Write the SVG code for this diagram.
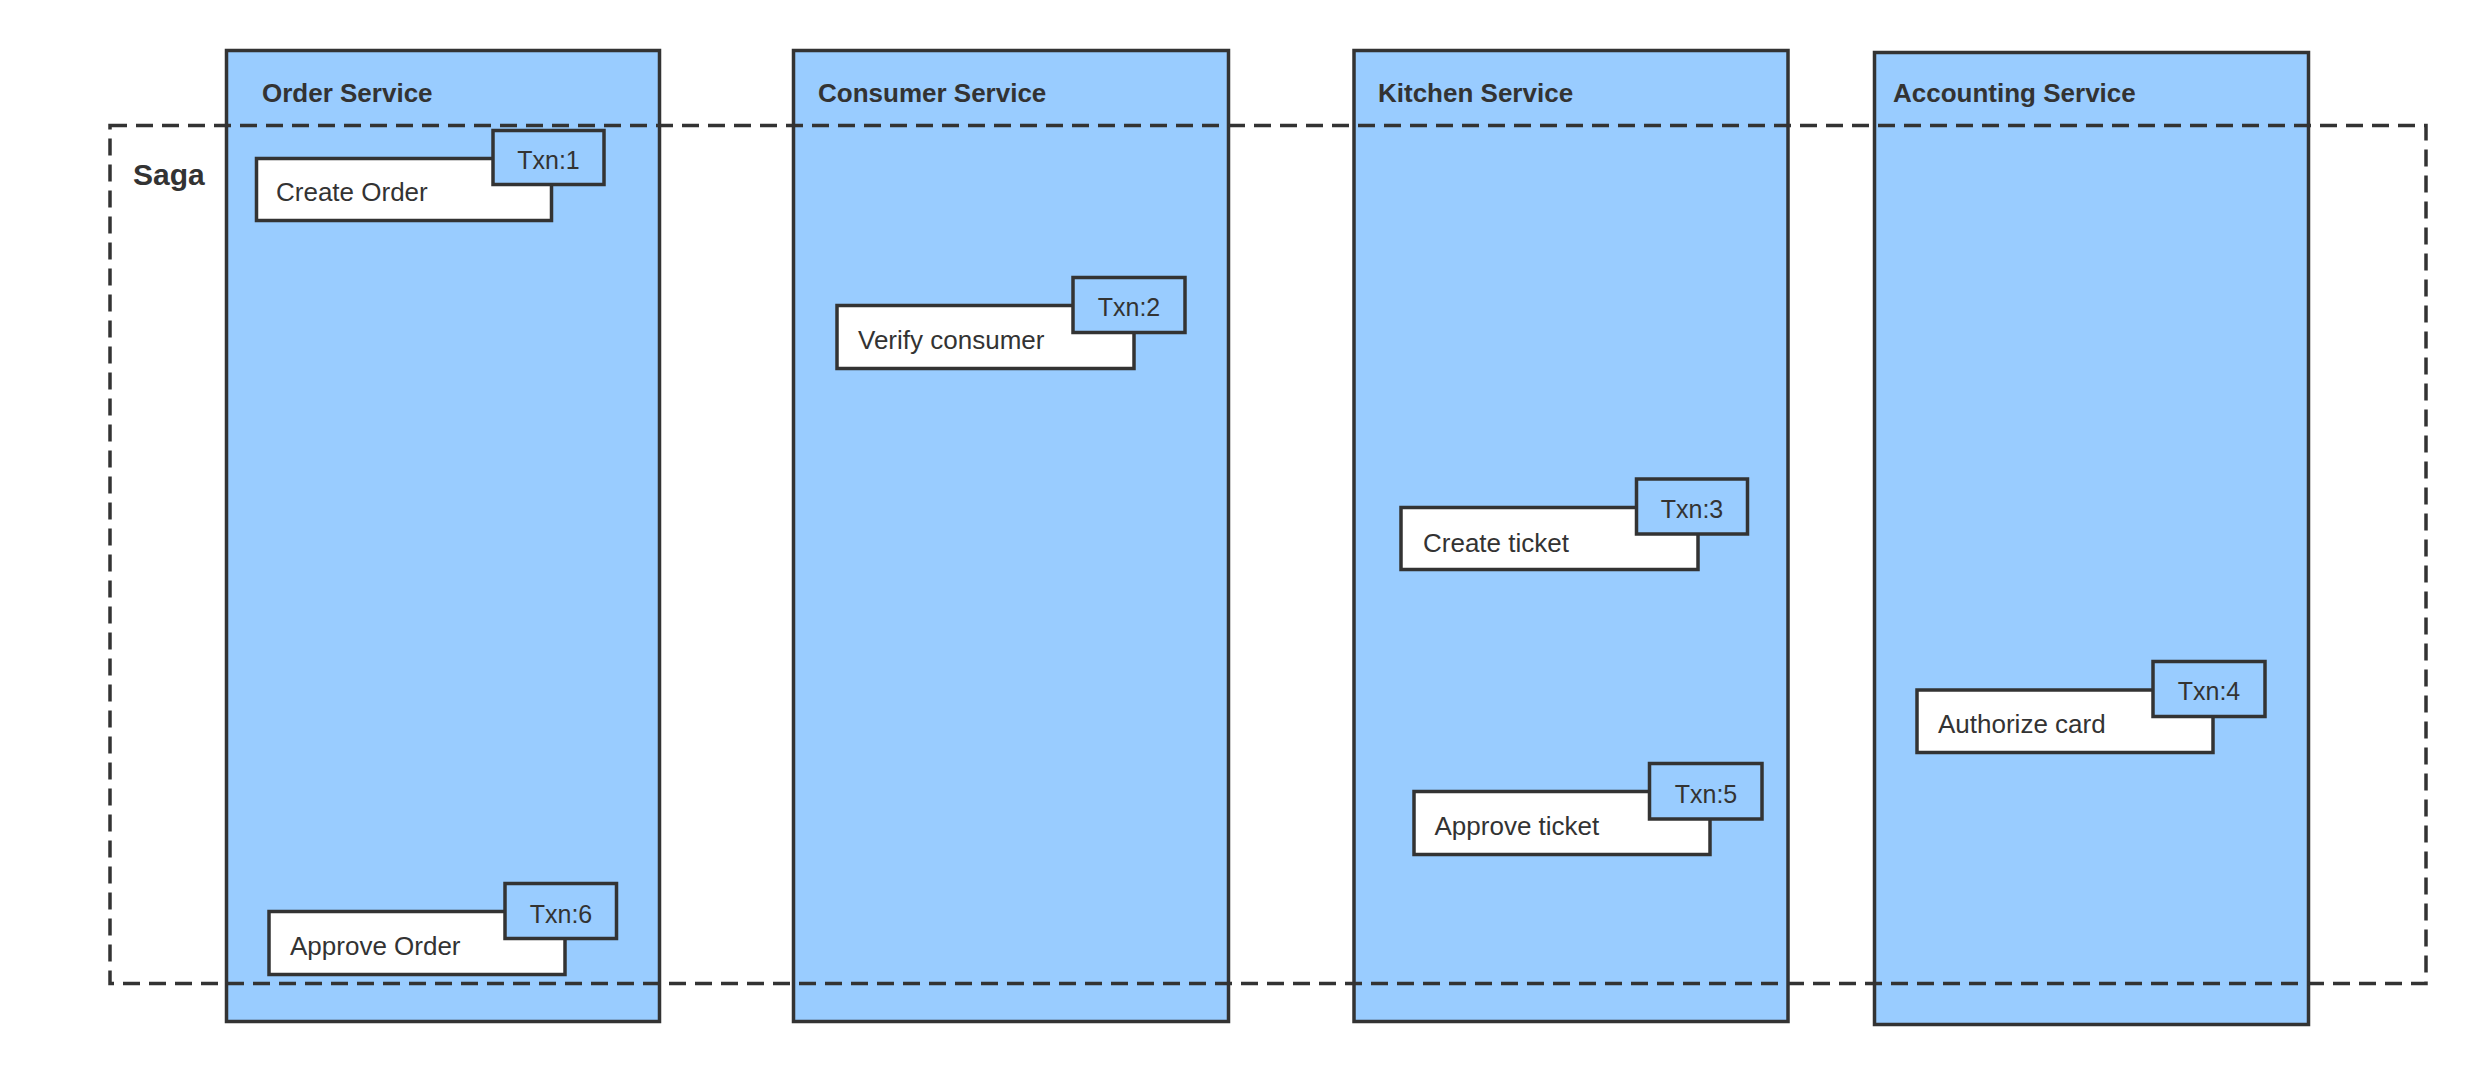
<svg xmlns="http://www.w3.org/2000/svg" width="2476" height="1075" viewBox="0 0 2476 1075">
<style>
.svc{fill:#99ccff;stroke:#333333;stroke-width:3.5}
.task{fill:#ffffff;stroke:#333333;stroke-width:3.5}
.txn{fill:#99ccff;stroke:#333333;stroke-width:3.5}
.saga{fill:none;stroke:#333333;stroke-width:3.5;stroke-dasharray:17 9}
.title{font-family:"Liberation Sans",Arial,sans-serif;font-size:26px;font-weight:bold;fill:#333333}
.lbl{font-family:"Liberation Sans",Arial,sans-serif;font-size:26px;fill:#333333}
.tx{font-family:"Liberation Sans",Arial,sans-serif;font-size:25px;fill:#333333;text-anchor:middle}
.sagat{font-family:"Liberation Sans",Arial,sans-serif;font-size:30px;font-weight:bold;fill:#333333}
</style>
<rect width="2476" height="1075" fill="#ffffff"/>
<g id="order-service">
<rect class="svc" x="226.5" y="50.5" width="433" height="971"/>
<text class="title" x="262" y="102">Order Service</text>
</g>
<g id="consumer-service">
<rect class="svc" x="793.5" y="50.5" width="435" height="971"/>
<text class="title" x="818" y="102">Consumer Service</text>
</g>
<g id="kitchen-service">
<rect class="svc" x="1354" y="50.5" width="434" height="971"/>
<text class="title" x="1378" y="102">Kitchen Service</text>
</g>
<g id="accounting-service">
<rect class="svc" x="1874.5" y="52.5" width="434" height="972"/>
<text class="title" x="1893" y="102">Accounting Service</text>
</g>
<g id="saga">
<rect class="saga" x="110" y="125.5" width="2316" height="858"/>
<text class="sagat" x="133" y="185">Saga</text>
</g>
<g id="create-order">
<rect class="task" x="256.5" y="158.5" width="295" height="62"/>
<text class="lbl" x="276" y="201">Create Order</text>
<rect class="txn" x="493" y="130.5" width="111" height="54"/>
<text class="tx" x="548.5" y="169">Txn:1</text>
</g>
<g id="verify-consumer">
<rect class="task" x="837" y="305.5" width="297" height="63"/>
<text class="lbl" x="858" y="349">Verify consumer</text>
<rect class="txn" x="1073" y="277.5" width="112" height="55"/>
<text class="tx" x="1129" y="316">Txn:2</text>
</g>
<g id="create-ticket">
<rect class="task" x="1401" y="507.5" width="297" height="62"/>
<text class="lbl" x="1423" y="552">Create ticket</text>
<rect class="txn" x="1636.5" y="479" width="111" height="55"/>
<text class="tx" x="1692" y="518">Txn:3</text>
</g>
<g id="authorize-card">
<rect class="task" x="1917" y="690" width="296" height="62.5"/>
<text class="lbl" x="1938" y="733">Authorize card</text>
<rect class="txn" x="2153" y="661.5" width="112" height="55"/>
<text class="tx" x="2209" y="700">Txn:4</text>
</g>
<g id="approve-ticket">
<rect class="task" x="1414" y="791.5" width="296" height="63"/>
<text class="lbl" x="1434.5" y="835">Approve ticket</text>
<rect class="txn" x="1649.5" y="763.5" width="112.5" height="55.5"/>
<text class="tx" x="1706" y="802.5">Txn:5</text>
</g>
<g id="approve-order">
<rect class="task" x="269" y="911.5" width="296" height="63"/>
<text class="lbl" x="290" y="955">Approve Order</text>
<rect class="txn" x="505" y="883.5" width="111.5" height="55"/>
<text class="tx" x="561" y="922.5">Txn:6</text>
</g>
<g id="connectors"></g>
</svg>
